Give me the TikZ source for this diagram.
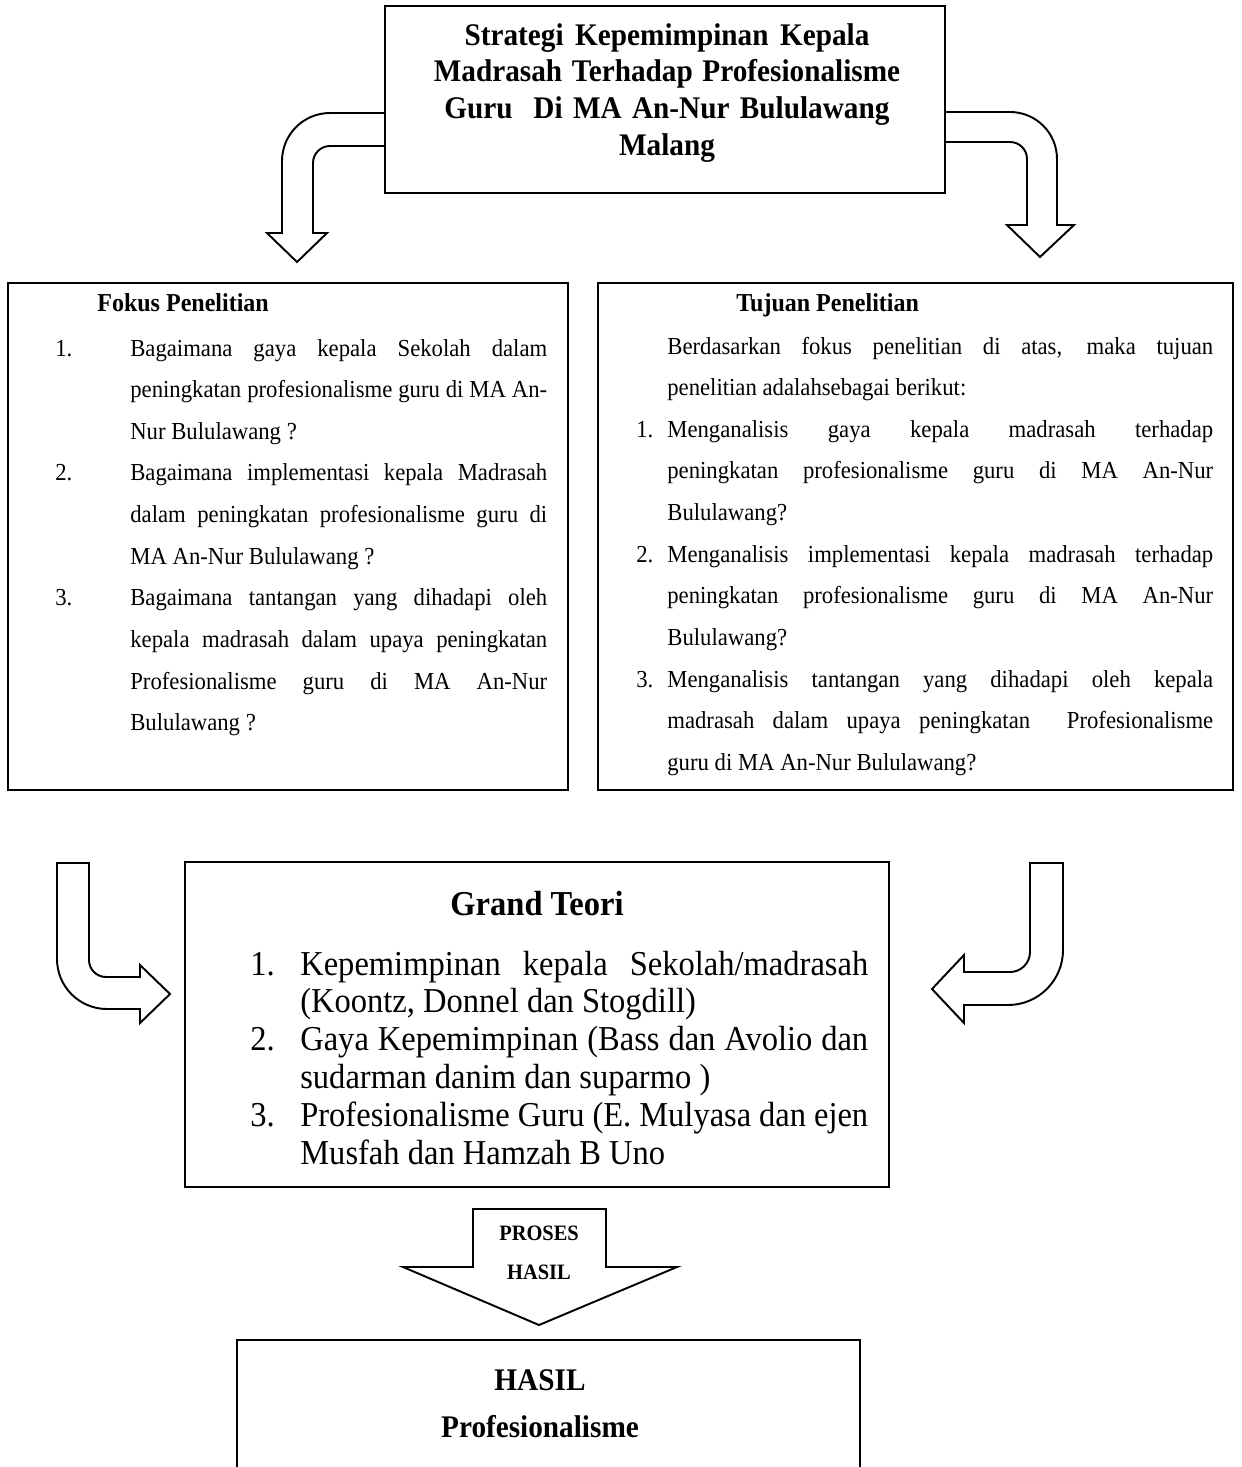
\documentclass[tikz,border=0pt]{standalone}
\usepackage{fontspec}
\setmainfont{Liberation Serif}[FakeStretch=0.93]
\usetikzlibrary{fit}
\newcommand{\sidefont}{\fontsize{13.9pt}{23.7pt}\selectfont}
\newcommand{\kepalafont}{\fontsize{14.7pt}{18pt}\selectfont\bfseries}
\newcommand{\judulfont}{\fontsize{17.9pt}{21pt}\selectfont\bfseries}
\newcommand{\teorifont}{\fontsize{19.9pt}{21.6pt}\selectfont}
\newcommand{\labelfont}{\fontsize{12.5pt}{15pt}\selectfont\bfseries}
\newcommand{\barisrata}[2]{\makebox[#1][s]{#2}}

\begin{document}
\begin{tikzpicture}[x=0.02cm, y=-0.02cm,
    kotak/.style={draw, line width=1.35pt, inner sep=0pt},
    panah/.style={draw, line width=1.1pt, line join=miter},
    teks/.style={inner sep=0pt, execute at begin node={\spaceskip=0pt\xspaceskip=0pt\relax}},
    isi/.style={teks, anchor=base west, align=left}]
    \useasboundingbox (0,0) rectangle (1241,1467);

    \node[kotak, fit={(385,6) (945,193)}] (judul) {};
    \node[teks, anchor=base, text width=11cm, align=center, font=\judulfont] (judultext) at (667,45)
        {Strategi Kepemimpinan Kepala\\ Madrasah Terhadap Profesionalisme\\ Guru\ \ Di MA An-Nur Bululawang\\ Malang};

    \node[kotak, fit={(8,283) (568,790)}] (fokus) {};
    \node[isi, font=\kepalafont] (fokusjudul) at (97,311) {Fokus Penelitian};
    \node[isi, text width=9.84cm, font=\sidefont] (fokusisi) at (55,356) {%
        \makebox[1.5cm][l]{1.}\barisrata{8.34cm}{Bagaimana gaya kepala Sekolah dalam}\\
        \hspace*{1.5cm}\barisrata{8.34cm}{peningkatan profesionalisme guru di MA An-}\\
        \hspace*{1.5cm}Nur Bululawang ?\\
        \makebox[1.5cm][l]{2.}\barisrata{8.34cm}{Bagaimana implementasi kepala Madrasah}\\
        \hspace*{1.5cm}\barisrata{8.34cm}{dalam peningkatan profesionalisme guru di}\\
        \hspace*{1.5cm}MA An-Nur Bululawang ?\\
        \makebox[1.5cm][l]{3.}\barisrata{8.34cm}{Bagaimana tantangan yang dihadapi oleh}\\
        \hspace*{1.5cm}\barisrata{8.34cm}{kepala madrasah dalam upaya peningkatan}\\
        \hspace*{1.5cm}\barisrata{8.34cm}{Profesionalisme guru di MA An-Nur}\\
        \hspace*{1.5cm}Bululawang ?};

    \node[kotak, fit={(598,283) (1233,790)}] (tujuan) {};
    \node[isi, font=\kepalafont] (tujuanjudul) at (736,311) {Tujuan Penelitian};
    \node[isi, text width=11.54cm, font=\sidefont] (tujuanisi) at (636,354) {%
        \hspace*{0.62cm}\barisrata{10.92cm}{Berdasarkan fokus penelitian di atas, maka tujuan}\\
        \hspace*{0.62cm}penelitian adalahsebagai berikut:\\
        \makebox[0.62cm][l]{1.}\barisrata{10.92cm}{Menganalisis gaya kepala madrasah terhadap}\\
        \hspace*{0.62cm}\barisrata{10.92cm}{peningkatan profesionalisme guru di MA An-Nur}\\
        \hspace*{0.62cm}Bululawang?\\
        \makebox[0.62cm][l]{2.}\barisrata{10.92cm}{Menganalisis implementasi kepala madrasah terhadap}\\
        \hspace*{0.62cm}\barisrata{10.92cm}{peningkatan profesionalisme guru di MA An-Nur}\\
        \hspace*{0.62cm}Bululawang?\\
        \makebox[0.62cm][l]{3.}\barisrata{10.92cm}{Menganalisis tantangan yang dihadapi oleh kepala}\\
        \hspace*{0.62cm}\barisrata{10.92cm}{madrasah dalam upaya peningkatan\ \ Profesionalisme}\\
        \hspace*{0.62cm}guru di MA An-Nur Bululawang?};

    \node[kotak, fit={(185,862) (889,1187)}] (teori) {};
    \node[teks, anchor=base, font=\teorifont\bfseries] (teorijudul) at (537,915) {Grand Teori};
    \node[isi, text width=12.36cm, font=\teorifont] (teoriisi) at (250,975) {%
        \makebox[1cm][l]{1.}\barisrata{11.36cm}{Kepemimpinan kepala Sekolah/madrasah}\\
        \hspace*{1cm}(Koontz, Donnel dan Stogdill)\\
        \makebox[1cm][l]{2.}\barisrata{11.36cm}{Gaya Kepemimpinan (Bass dan Avolio dan}\\
        \hspace*{1cm}sudarman danim dan suparmo )\\
        \makebox[1cm][l]{3.}\barisrata{11.36cm}{Profesionalisme Guru (E. Mulyasa dan ejen}\\
        \hspace*{1cm}Musfah dan Hamzah B Uno};

    \node[kotak, fit={(237,1340) (860,1500)}] (hasil) {};
    \node[teks, anchor=base, font=\judulfont] (hasiljudul) at (540,1390) {HASIL};
    \node[teks, anchor=base, font=\judulfont] (hasilisi) at (540,1437) {Profesionalisme};

    \draw[panah] (385,113) -- (330,113) .. controls (303.5,113) and (282,134.5) .. (282,161)
        -- (282,233) -- (267,233) -- (297,262) -- (327,233) -- (313,233)
        -- (313,163) .. controls (313,153.6) and (320.6,146) .. (330,146) -- (385,146);
    \draw[panah] (945,112) -- (1010,112) .. controls (1036,112) and (1057,133) .. (1057,159)
        -- (1057,225) -- (1074,225) -- (1040,257) -- (1007,225) -- (1027,225)
        -- (1027,159) .. controls (1027,149.6) and (1019.4,142) .. (1010,142) -- (945,142);
    \draw[panah] (57,863) -- (89,863) -- (89,960) .. controls (89,969.4) and (96.6,977) .. (106,977)
        -- (140,977) -- (140,965) -- (170,994) -- (140,1023) -- (140,1009)
        -- (107,1009) .. controls (79.4,1009) and (57,986.6) .. (57,959) -- cycle;
    \draw[panah] (1030,863) -- (1063,863) -- (1063,950) .. controls (1063,980.4) and (1038.4,1005) .. (1008,1005)
        -- (964,1005) -- (964,1023) -- (932,989) -- (964,955) -- (964,972)
        -- (1010,972) .. controls (1021,972) and (1030,963) .. (1030,952) -- cycle;
    \draw[panah] (473,1209) -- (606,1209) -- (606,1267) -- (677,1267) -- (539,1325)
        -- (403,1267) -- (473,1267) -- cycle;
    \node[teks, anchor=base, font=\labelfont] (proses) at (539,1240) {PROSES};
    \node[teks, anchor=base, font=\labelfont] (proseshasil) at (539,1279) {HASIL};
\end{tikzpicture}
\end{document}
